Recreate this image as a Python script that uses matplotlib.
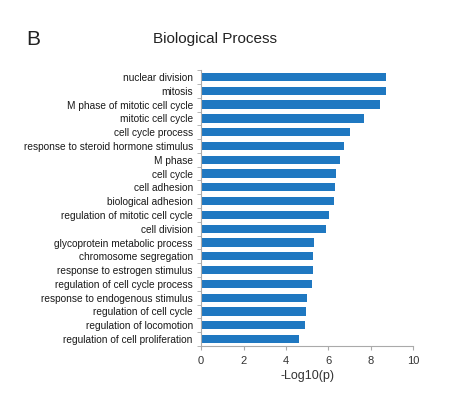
import matplotlib.pyplot as plt
from matplotlib.ticker import FixedLocator
import numpy as np

# GO terms, top to bottom as in the figure
terms = [
    'nuclear division', 'mitosis', 'M phase of mitotic cell cycle',
    'mitotic cell cycle', 'cell cycle process',
    'response to steroid hormone stimulus', 'M phase', 'cell cycle',
    'cell adhesion', 'biological adhesion',
    'regulation of mitotic cell cycle', 'cell division',
    'glycoprotein metabolic process', 'chromosome segregation',
    'response to estrogen stimulus', 'regulation of cell cycle process',
    'response to endogenous stimulus', 'regulation of cell cycle',
    'regulation of locomotion', 'regulation of cell proliferation',
]
neglog_p = [8.71, 8.71, 8.44, 7.67, 7.0, 6.76, 6.54, 6.38, 6.30, 6.26,
            6.05, 5.90, 5.33, 5.30, 5.27, 5.24, 4.98, 4.95, 4.89, 4.61]
xticks = [0, 2, 4, 6, 8, 10]

plt.rcParams['font.family'] = ['Liberation Sans', 'DejaVu Sans']

fig = plt.figure(figsize=(4.5, 3.94), dpi=100)
ax = fig.add_axes([0.447, 0.122, 0.471, 0.70])

y = np.arange(len(terms))
ax.barh(y, neglog_p, height=0.6, color='#1f78c1')
ax.set_ylim(len(terms) - 0.5, -0.5)
ax.set_xlim(0, 10)

ax.set_yticks(y)
ax.set_yticklabels(terms, fontsize=7.3, color='#1a1a1a')
ax.tick_params(axis='y', length=0, pad=6)
ax.yaxis.set_minor_locator(FixedLocator(np.arange(-0.5, len(terms), 1)))
ax.tick_params(axis='y', which='minor', length=3, color='#aaaaaa')

ax.set_xticks(xticks)
ax.set_xticklabels([str(t) for t in xticks], fontsize=8, color='#333333')
ax.tick_params(axis='x', length=3, color='#aaaaaa', pad=4)
ax.set_xlabel('-Log10(p)', fontsize=9, color='#333333', labelpad=3)

for s in ['top', 'right']:
    ax.spines[s].set_visible(False)
for s in ['left', 'bottom']:
    ax.spines[s].set_color('#aaaaaa')
    ax.spines[s].set_linewidth(0.8)

fig.text(0.478, 0.900, 'Biological Process', fontsize=11, ha='center',
         va='center', color='#222222')
fig.text(0.058, 0.900, 'B', fontsize=15, ha='left', va='center',
         color='#222222')

fig.savefig('out.png', dpi=100)
